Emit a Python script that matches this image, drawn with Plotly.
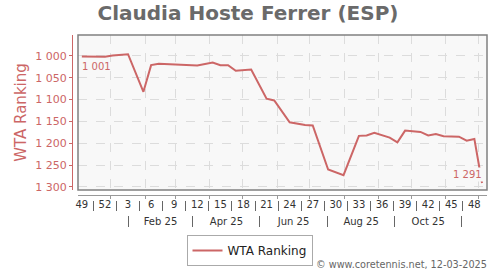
import datetime as dt
import plotly.graph_objects as go

# ---------------- data ----------------
weeks = ["2024-W49", "2024-W52", "2025-W01", "2025-W02", "2025-W03", "2025-W05",
         "2025-W06", "2025-W07", "2025-W09", "2025-W12", "2025-W14", "2025-W15",
         "2025-W16", "2025-W17", "2025-W19", "2025-W21", "2025-W22", "2025-W24",
         "2025-W26", "2025-W27", "2025-W29", "2025-W31", "2025-W33", "2025-W34",
         "2025-W35", "2025-W37", "2025-W38", "2025-W39", "2025-W41", "2025-W42",
         "2025-W43", "2025-W44", "2025-W46", "2025-W47", "2025-W48", "2025-W49"]
ranks = [1001, 1002, 999, 998, 996, 1082,
         1021, 1018, 1020, 1022, 1015, 1021,
         1021, 1034, 1031, 1098, 1102, 1152,
         1158, 1159, 1260, 1273, 1183, 1182,
         1176, 1187, 1198, 1171, 1174, 1182,
         1179, 1184, 1185, 1194, 1190, 1291]

tick_weeks = ["2024-W49", "2024-W52", "2025-W03", "2025-W06", "2025-W09", "2025-W12",
              "2025-W15", "2025-W18", "2025-W21", "2025-W24", "2025-W27", "2025-W30",
              "2025-W33", "2025-W36", "2025-W39", "2025-W42", "2025-W45", "2025-W48"]
month_ticks = ["2025-02", "2025-04", "2025-06", "2025-08", "2025-10"]
y_ticks = [1000, 1050, 1100, 1150, 1200, 1250, 1300]

title_text = "Claudia Hoste Ferrer (ESP)"
series_name = "WTA Ranking"
credit_text = "© www.coretennis.net, 12-03-2025"

# ---------------- helpers ----------------
RED = "#cc6666"
GRID = "#dcdcdc"


def wk_center(s):
    y, w = s.split("-W")
    return dt.datetime.fromisocalendar(int(y), int(w), 1) + dt.timedelta(days=3.5)


def month_start(y, m):
    if m > 12:
        y, m = y + 1, m - 12
    if m < 1:
        y, m = y - 1, m + 12
    return dt.datetime(y, m, 1)


def month_mid(y, m):
    a = month_start(y, m)
    b = month_start(y, m + 1)
    return a + (b - a) / 2


def fmt_sp(v):
    return f"{v:,}".replace(",", " ")


x_data = [wk_center(w) for w in weeks]
tick_x = [wk_center(w) for w in tick_weeks]
tick_text = [str(int(w.split("-W")[1])) for w in tick_weeks]
wk_sep = [tick_x[i] + (tick_x[i + 1] - tick_x[i]) / 2 for i in range(len(tick_x) - 1)]

m_pairs = [(int(s[:4]), int(s[5:])) for s in month_ticks]
m_x = [month_mid(y, m) for y, m in m_pairs]
m_text = [month_start(y, m).strftime("%b %y") for y, m in m_pairs]
m_sep = [month_mid(y, m - 1) for y, m in m_pairs] + [month_mid(m_pairs[-1][0], m_pairs[-1][1] + 1)]

# ---------------- layout geometry (pixels) ----------------
W, H = 500, 270
ML, MR, MT, MB = 60, 13, 35, 40
PW = W - ML - MR
PH = H - MT - MB


def py(p):  # pixel y -> paper fraction
    return (H - MB - p) / PH


def px(p):  # pixel x -> paper fraction
    return (p - ML) / PW


xr = ["2024-12-02", "2025-12-09"]

fig = go.Figure()
fig.add_trace(go.Scatter(x=x_data, y=ranks, mode="lines", name=series_name,
                         line=dict(color=RED, width=2), hoverinfo="x+y"))
# empty helper traces so the extra (label/separator) axes are drawn
for ax, xs in (("x2", wk_sep), ("x3", m_sep), ("x4", m_x)):
    fig.add_trace(go.Scatter(x=xs, y=[None] * len(xs), xaxis=ax, yaxis="y",
                             mode="lines", showlegend=False, hoverinfo="skip"))

fig.update_layout(
    width=W, height=H,
    margin=dict(l=ML, r=MR, t=MT, b=MB, pad=0, autoexpand=False),
    paper_bgcolor="white",
    plot_bgcolor="#f8f8f8",
    font=dict(family="DejaVu Sans", color="#333"),
    title=dict(text=f"<b>{title_text}</b>", x=0.496, xanchor="center",
               y=1 - 13 / H, yanchor="middle", yref="container",
               font=dict(size=20, color="#6a6a6a")),
    showlegend=True,
    legend=dict(orientation="h", x=px(249.5), xanchor="center", y=py(235), yanchor="top",
                bordercolor="#aaaaaa", borderwidth=1, font=dict(size=12, color="#222"),
                bgcolor="white", itemwidth=30),
    xaxis=dict(type="date", domain=[px(78), 1], range=xr, anchor="free", position=py(195),
               showline=True, linecolor="#999", linewidth=1, zeroline=False,
               tickmode="array", tickvals=tick_x, ticktext=tick_text, ticks="",
               showgrid=False, tickfont=dict(size=10, color="#333"),
               minor=dict(tickmode="linear", tick0="2025-01-01", dtick="M1",
                          ticks="outside", ticklen=3, tickcolor="#999",
                          showgrid=True, gridcolor=GRID, griddash="dash", gridwidth=1)),
    xaxis2=dict(type="date", overlaying="x", matches="x", anchor="free", position=py(200),
                showline=False, zeroline=False, showgrid=False, showticklabels=False,
                tickmode="array", tickvals=wk_sep, ticks="outside", ticklen=10,
                tickcolor="#666", tickwidth=1),
    xaxis3=dict(type="date", overlaying="x", matches="x", anchor="free", position=py(215),
                showline=False, zeroline=False, showgrid=False, showticklabels=False,
                tickmode="array", tickvals=m_sep, ticks="outside", ticklen=11,
                tickcolor="#666", tickwidth=1),
    xaxis4=dict(type="date", overlaying="x", matches="x", anchor="free", position=py(214),
                showline=False, zeroline=False, showgrid=False, showticklabels=True,
                tickmode="array", tickvals=m_x, ticktext=m_text, ticks="",
                tickfont=dict(size=10, color="#333")),
    yaxis=dict(domain=[py(190), 1], range=[1307, 952], anchor="free", position=px(72),
               showline=True, linecolor=RED, linewidth=1, zeroline=False,
               tickmode="array", tickvals=y_ticks, ticktext=[fmt_sp(v) for v in y_ticks],
               ticks="outside", ticklen=3, tickcolor=RED,
               tickfont=dict(size=11, color=RED),
               showgrid=True, gridcolor=GRID, griddash="dash", gridwidth=1,
               title=dict(text=series_name, font=dict(size=15, color=RED), standoff=4)),
)

fig.add_shape(type="rect", xref="x domain", yref="y domain", x0=0, x1=1, y0=0, y1=1,
              line=dict(color="#808080", width=1.5), fillcolor="rgba(0,0,0,0)", layer="above")

fig.add_annotation(x=x_data[0], y=ranks[0], xref="x", yref="y", text=fmt_sp(ranks[0]),
                   showarrow=False, xanchor="left", yanchor="top", yshift=-3, xshift=-2,
                   font=dict(size=10, color=RED))
fig.add_annotation(x=x_data[-1], y=ranks[-1], xref="x", yref="y", text=fmt_sp(ranks[-1]),
                   showarrow=False, xanchor="right", yanchor="bottom", yshift=1, xshift=2,
                   bgcolor="#f8f8f8", font=dict(size=10, color=RED))
fig.add_annotation(x=px(489), y=py(264), xref="paper", yref="paper", text=credit_text,
                   showarrow=False, xanchor="right", yanchor="middle",
                   font=dict(size=9.7, color="#666"))

fig.write_html("out.html")
